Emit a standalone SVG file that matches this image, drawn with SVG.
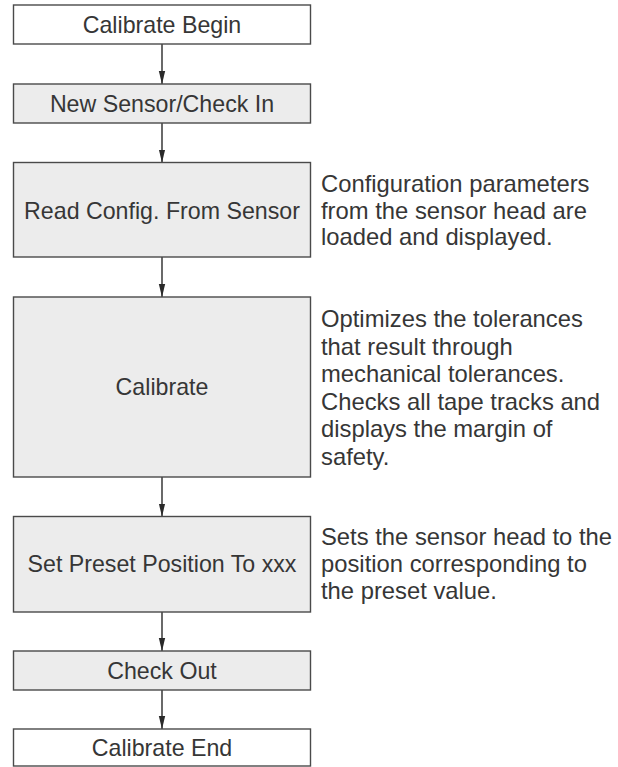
<svg xmlns="http://www.w3.org/2000/svg" width="618" height="767" viewBox="0 0 618 767">
  <defs>
    <marker id="arrow" markerUnits="userSpaceOnUse" markerWidth="13" markerHeight="8" refX="13" refY="4" orient="auto">
      <path d="M0,0.8 L13,4 L0,7.2 Z" fill="#2a2a2a"/>
    </marker>
    <style>
      .box { stroke: #4a4a4a; stroke-width: 1.4; }
      .white { fill: #ffffff; }
      .gray { fill: #ececec; }
      .label { font-family: "Liberation Sans", Arial, sans-serif; font-size: 23.2px; fill: #363636; text-anchor: middle; }
      .desc { font-family: "Liberation Sans", Arial, sans-serif; font-size: 23.8px; fill: #363636; }
      .conn { stroke: #2a2a2a; stroke-width: 1.4; fill: none; marker-end: url(#arrow); }
    </style>
  </defs>
  <rect width="618" height="767" fill="#ffffff"/>

  <g id="connectors">
    <line class="conn" x1="162" y1="44" x2="162" y2="84"/>
    <line class="conn" x1="162" y1="123" x2="162" y2="162.5"/>
    <line class="conn" x1="162" y1="257" x2="162" y2="297"/>
    <line class="conn" x1="162" y1="477" x2="162" y2="516.5"/>
    <line class="conn" x1="162" y1="612" x2="162" y2="651"/>
    <line class="conn" x1="162" y1="690" x2="162" y2="729"/>
  </g>

  <g id="calibrate-begin">
    <rect class="box white" x="13.5" y="5" width="297" height="39"/>
    <text class="label" x="162" y="32.5">Calibrate Begin</text>
  </g>

  <g id="new-sensor">
    <rect class="box gray" x="13.5" y="84" width="297" height="39"/>
    <text class="label" x="162" y="111.5">New Sensor/Check In</text>
  </g>

  <g id="read-config">
    <rect class="box gray" x="13.5" y="162.5" width="297" height="94.5"/>
    <text class="label" x="162" y="218.5">Read Config. From Sensor</text>
    <text class="desc" x="321" y="192">Configuration parameters</text>
    <text class="desc" x="321" y="218.5">from the sensor head are</text>
    <text class="desc" x="321" y="245">loaded and displayed.</text>
  </g>

  <g id="calibrate">
    <rect class="box gray" x="13.5" y="297" width="297" height="180"/>
    <text class="label" x="162" y="395">Calibrate</text>
    <text class="desc" x="321" y="327">Optimizes the tolerances</text>
    <text class="desc" x="321" y="354.5">that result through</text>
    <text class="desc" x="321" y="382">mechanical tolerances.</text>
    <text class="desc" x="321" y="409.5">Checks all tape tracks and</text>
    <text class="desc" x="321" y="437">displays the margin of</text>
    <text class="desc" x="321" y="464.5">safety.</text>
  </g>

  <g id="set-preset">
    <rect class="box gray" x="13.5" y="516.5" width="297" height="95.5"/>
    <text class="label" x="162" y="572">Set Preset Position To xxx</text>
    <text class="desc" x="321" y="545">Sets the sensor head to the</text>
    <text class="desc" x="321" y="572">position corresponding to</text>
    <text class="desc" x="321" y="599">the preset value.</text>
  </g>

  <g id="check-out">
    <rect class="box gray" x="13.5" y="651" width="297" height="39"/>
    <text class="label" x="162" y="678.5">Check Out</text>
  </g>

  <g id="calibrate-end">
    <rect class="box white" x="13.5" y="729" width="297" height="37"/>
    <text class="label" x="162" y="755.5">Calibrate End</text>
  </g>
</svg>
